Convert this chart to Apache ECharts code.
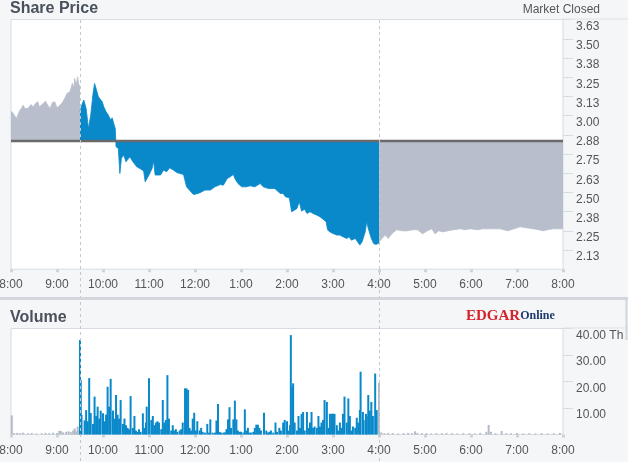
<!DOCTYPE html>
<html>
<head>
<meta charset="utf-8">
<script src="https://cdn.jsdelivr.net/npm/echarts@6/dist/echarts.min.js"></script>
<style>
html, body { margin: 0; padding: 0; background: #f4f6f8; }
#chart { width: 628px; height: 462px; }
</style>
</head>
<body>
<div id="chart"></div>
<script>
// minutes counted from 8:00 am
var timeLabels = ['8:00', '9:00', '10:00', '11:00', '12:00', '1:00', '2:00', '3:00', '4:00', '5:00', '6:00', '7:00', '8:00'];
var priceTicks = [2.125, 2.25, 2.375, 2.5, 2.625, 2.75, 2.875, 3.0, 3.125, 3.25, 3.375, 3.5, 3.625];
var volumeTicks = [10, 20, 30, 40];
var prevClose = 2.835;
var marketOpen = 90, marketClose = 480;

var prePrice = [[0,3.029],[3,3.014],[7,2.981],[9,2.992],[11,3.029],[13,3.025],[16,3.068],[18,3.046],[20,3.057],[22,3.046],
  [26,3.072],[29,3.057],[32,3.079],[35,3.090],[37,3.057],[42,3.079],[45,3.094],[48,3.068],[51,3.046],[54,3.085],
  [57,3.090],[60,3.051],[64,3.068],[67,3.085],[70,3.111],[73,3.144],[77,3.155],[80,3.209],[82,3.176],[83,3.242],
  [85,3.199],[87,3.253],[88,3.209],[90,3.187]];

var regPrice = [[90,3.025],[93,3.079],[95,3.101],[98,3.046],[101,2.916],[104,3.003],[107,3.144],[109,3.209],[111,3.176],[114,3.122],
  [116,3.133],[119,3.090],[121,3.057],[124,3.025],[127,3.003],[130,2.971],[132,2.986],[134,2.949],[136,2.916],[137,2.797],
  [140,2.786],[142,2.623],[144,2.721],[147,2.743],[150,2.699],[155,2.732],[159,2.699],[164,2.667],[168,2.656],[173,2.640],
  [175,2.569],[177,2.558],[180,2.613],[184,2.656],[186,2.704],[188,2.613],[192,2.613],[195,2.613],[199,2.645],[203,2.634],
  [207,2.660],[212,2.645],[216,2.630],[220,2.623],[225,2.617],[229,2.536],[234,2.508],[238,2.486],[244,2.493],[249,2.504],
  [253,2.515],[260,2.515],[266,2.536],[273,2.551],[277,2.547],[282,2.590],[286,2.602],[290,2.617],[292,2.590],[296,2.558],
  [301,2.536],[307,2.536],[312,2.543],[318,2.536],[325,2.558],[329,2.536],[336,2.525],[344,2.525],[348,2.508],[351,2.493],
  [355,2.493],[358,2.471],[363,2.465],[366,2.374],[370,2.385],[373,2.395],[376,2.439],[379,2.378],[383,2.391],[386,2.363],
  [390,2.374],[394,2.363],[399,2.352],[403,2.341],[407,2.326],[411,2.309],[413,2.255],[416,2.243],[420,2.232],[425,2.222],
  [429,2.222],[433,2.211],[438,2.200],[441,2.211],[444,2.189],[449,2.200],[452,2.178],[455,2.157],[458,2.178],[462,2.243],
  [464,2.309],[466,2.265],[470,2.200],[473,2.167],[476,2.161],[478,2.167],[480,2.170]];

var afterPrice = [[480,2.178],[484,2.200],[488,2.222],[492,2.200],[497,2.232],[503,2.257],[510,2.250],[517,2.250],[524,2.257],[530,2.257],
  [537,2.230],[543,2.250],[549,2.263],[553,2.230],[558,2.250],[563,2.243],[570,2.250],[577,2.257],[586,2.263],[592,2.257],
  [599,2.263],[609,2.257],[615,2.263],[621,2.263],[630,2.263],[638,2.263],[648,2.250],[656,2.263],[664,2.276],[672,2.270],
  [681,2.263],[688,2.257],[694,2.250],[700,2.257],[707,2.263],[714,2.263],[720,2.263]];

// volume in thousands
var preVolume = [[1,7.2],[4,0.5],[8,0.6],[12,0.5],[16,0.7],[22,0.5],[27,0.6],[33,0.4],[40,0.5],[45,0.6],[50,0.5],[55,0.7],
  [60,0.6],[63,1.4],[65,1.3],[68,0.8],[72,1.0],[75,1.2],[78,0.9],[81,1.5],[83,2.3],[85,1.2],[87,3.0],[89,1.5]];

var regVolume = [[90,35.7],[91,20.6],[92,7.4],[96,5.3],[98,9.2],[100,5],[102,21.3],[104,8.1],[107,4],[109,14.3],
  [111,7],[113,10.5],[115,6],[117,9],[120,8],[122,5],[124,7.5],[126,18],[128,10.5],[130,21],
  [133,9],[135,6],[137,14.9],[139,7.5],[141,6],[143,13],[146,4],[148,6],[150,3.5],[152,2.5],
  [154,2],[156,14.5],[159,2.5],[161,7],[163,1.5],[165,1],[167,2],[169,1],[172,8],[174,2.5],
  [176,4.5],[177,10.5],[180,21.2],[183,5.5],[185,7],[187,3.5],[189,4.5],[191,5],[193,4.5],[196,2],
  [198,13],[200,4.5],[202,5.5],[204,22.4],[206,6],[209,1.5],[211,3.5],[213,1.5],[215,2],[217,1],
  [220,1.5],[222,2],[224,4.5],[227,17.4],[229,17.4],[231,16.8],[233,2.5],[235,1.5],[237,6],[239,8.2],
  [241,1.5],[243,5],[246,1.5],[248,2.5],[250,1],[253,0.7],[256,4],[258,0.7],[260,5.7],[263,0.7],
  [266,0.7],[268,5.3],[270,11.5],[272,1],[274,0.7],[277,0.7],[279,0.8],[281,2],[283,5.7],[285,10.3],
  [287,2.5],[290,5.7],[292,12.8],[294,5.7],[296,1.5],[298,1],[300,1],[303,0.7],[305,9.5],[307,1.5],
  [309,2.5],[311,0.7],[313,0.7],[316,1],[318,2.5],[320,3.7],[322,3.7],[324,2.5],[326,1.5],[330,8.2],
  [333,1.5],[335,0.7],[337,1],[339,1.5],[342,0.7],[345,4.5],[347,1],[350,2.5],[352,1.5],[355,4.5],
  [357,5.5],[360,5],[362,1.5],[364,3.5],[365,37.5],[367,18],[368,19.3],[370,4.5],[373,1.5],[375,7],
  [377,2.5],[379,7.8],[381,8.5],[383,1.5],[386,8.5],[388,2.5],[390,4.5],[392,8.5],[394,2.5],[396,3],
  [399,2.5],[401,7],[403,3],[405,4.5],[407,5.5],[409,13],[412,12.3],[414,2.5],[416,7.8],[418,7.8],
  [420,7.8],[422,7.8],[425,3.5],[427,1.5],[429,4.5],[431,2.5],[433,7.8],[435,14.3],[438,4.5],[440,13.6],
  [442,7],[444,1.5],[446,3],[449,2.5],[451,6.3],[453,4.5],[455,9.2],[456,23.7],[459,8.5],[460,5.5],
  [463,7.8],[464,7],[466,14.9],[468,9],[470,12.3],[472,7],[475,23],[477,9.2]];

var afterVolume = [[480,19.5],[483,0.8],[487,0.5],[492,0.6],[498,0.5],[505,0.4],[512,0.5],[518,0.6],[523,0.5],[527,1.2],
  [530,0.6],[536,0.5],[542,0.5],[548,0.4],[555,0.5],[562,0.5],[568,0.6],[575,0.5],[582,0.4],[590,0.5],
  [598,0.5],[605,0.4],[612,0.6],[620,1.0],[623,3.6],[626,1.0],[632,0.5],[640,1.3],[646,0.5],[652,0.5],
  [660,0.6],[668,0.4],[676,0.5],[684,0.4],[692,0.5],[700,0.4],[708,0.5],[716,0.6]];

var BLUE = '#0a89ca', GRAY = '#b8becb', VGRAY = '#b4bbc7';
var font = 'Liberation Sans, Arial, sans-serif';

function timeLabel(v) {
	return timeLabels[Math.round(v / 60)] || '';
}

var volData = [];
preVolume.forEach(function(d) { volData.push({ value: d, itemStyle: { color: VGRAY } }); });
regVolume.forEach(function(d) { volData.push({ value: d, itemStyle: { color: BLUE } }); });
afterVolume.forEach(function(d) { volData.push({ value: d, itemStyle: { color: VGRAY } }); });

function priceSeries(data, color) {
	return {
		type : 'line',
		xAxisIndex : 0,
		yAxisIndex : 0,
		data : data,
		symbol : 'none',
		lineStyle : { color : color, width : 0.8 },
		areaStyle : { color : color, opacity : 1, origin : prevClose },
		z : 2
	};
}

function xAxisFor(idx, margin) {
	return {
		gridIndex : idx,
		type : 'value',
		min : 0,
		max : 720,
		interval : 60,
		axisLine : { show : false, onZero : false },
		axisTick : { show : true, length : 3, lineStyle : { color : '#cdd3d9', width : 3 } },
		axisLabel : { formatter : timeLabel, color : '#555', fontSize : 12, fontFamily : font, margin : margin },
		splitLine : { show : false }
	};
}

function yAxisFor(idx, min, max, ticks, fmt) {
	return {
		gridIndex : idx,
		type : 'value',
		position : 'right',
		min : min,
		max : max,
		axisLine : { show : false, onZero : false },
		axisTick : { show : true, length : 10, customValues : ticks, lineStyle : { color : '#d6dce2' } },
		axisLabel : {
			customValues : ticks,
			formatter : fmt,
			verticalAlign : 'top',
			padding : [1, 0, 0, 0],
			color : '#555', fontSize : 12, fontFamily : font, margin : 13
		},
		splitLine : { show : false }
	};
}

var chart = echarts.init(document.getElementById('chart'));
var option = {
	backgroundColor : '#f4f6f8',
	animation : false,
	title : [
		{ text : 'Share Price', left : 10, top : 1, padding : 0, textStyle : { fontSize : 16, fontWeight : 'bold', color : '#4a505c', fontFamily : font } },
		{ text : 'Market Closed', right : 28, top : 4, padding : 0, textStyle : { fontSize : 12, fontWeight : 'normal', color : '#555', fontFamily : font } },
		{ text : 'Volume', left : 10, top : 310, padding : 0, textStyle : { fontSize : 16, fontWeight : 'bold', color : '#4a505c', fontFamily : font } }
	],
	grid : [
		{ left : 11, right : 65, top : 19.6, height : 249.6, outerBoundsMode : 'none', containLabel : false, show : true, backgroundColor : '#fff', borderColor : '#d6dce2', borderWidth : 1 },
		{ left : 11, right : 65, top : 328.5, height : 106, outerBoundsMode : 'none', containLabel : false, show : true, backgroundColor : '#fff', borderColor : '#d6dce2', borderWidth : 1 }
	],
	xAxis : [ xAxisFor(0, 9), xAxisFor(1, 10) ],
	yAxis : [
		yAxisFor(0, 2, 3.625, priceTicks, function(v) { return v.toFixed(2); }),
		yAxisFor(1, 0, 40, volumeTicks, function(v) { return v === 40 ? '40.00 Th' : v.toFixed(2); })
	],
	series : [
		priceSeries(prePrice, GRAY),
		priceSeries(regPrice, BLUE),
		priceSeries(afterPrice, GRAY),
		{
			type : 'line',
			xAxisIndex : 0,
			yAxisIndex : 0,
			data : [[0, prevClose], [720, prevClose]],
			symbol : 'none',
			lineStyle : { color : '#6a6a6a', width : 2.5 },
			z : 5
		},
		{
			type : 'bar',
			xAxisIndex : 1,
			yAxisIndex : 1,
			data : volData,
			barWidth : 2,
			z : 2
		}
	]
};
chart.setOption(option);

// session divider lines and panel decorations
var graphics = [];
[marketOpen, marketClose].forEach(function(m) {
	var x = Math.round(chart.convertToPixel({ xAxisIndex : 0 }, m)) + 0.5;
	graphics.push({
		type : 'line', z : 50,
		shape : { x1 : x, y1 : 20, x2 : x, y2 : 462 },
		style : { stroke : '#c3c8ce', lineWidth : 1, lineDash : [3, 3] }
	});
});
graphics.push({ type : 'line', z : 40, shape : { x1 : 563, y1 : 19.1, x2 : 628, y2 : 19.1 }, style : { stroke : '#dde2e7', lineWidth : 1 } });
graphics.push({ type : 'line', z : 40, shape : { x1 : 563, y1 : 328, x2 : 628, y2 : 328 }, style : { stroke : '#dde2e7', lineWidth : 1 } });
graphics.push({ type : 'rect', z : 60, shape : { x : 0, y : 297, width : 628, height : 3 }, style : { fill : '#d3d7db' } });
graphics.push({ type : 'line', z : 60, shape : { x1 : 626.5, y1 : 297, x2 : 626.5, y2 : 340 }, style : { stroke : '#d3d7db', lineWidth : 2 } });
graphics.push({
	type : 'text', z : 60, x : 466, y : 316,
	style : {
		text : '{a|EDGAR}{b|Online}',
		verticalAlign : 'middle',
		rich : {
			a : { fontFamily : 'Liberation Serif, serif', fontWeight : 'bold', fontSize : 15, fill : '#d6232b' },
			b : { fontFamily : 'Liberation Serif, serif', fontWeight : 'bold', fontSize : 12, fill : '#1e3a70' }
		}
	}
});
chart.setOption({ graphic : graphics });
</script>
</body>
</html>
